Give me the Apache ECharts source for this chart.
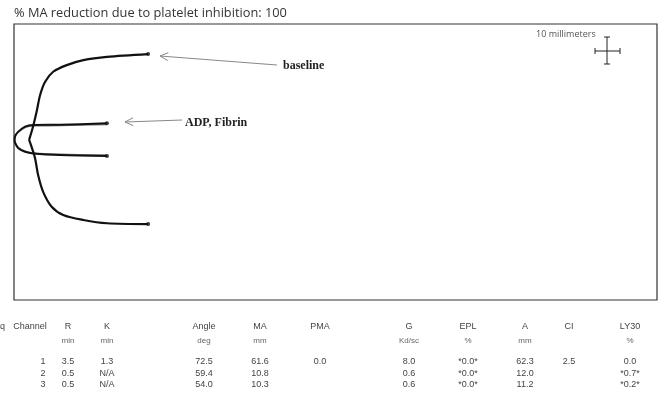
<!DOCTYPE html>
<html lang="en">
<head>
<meta charset="UTF-8">
<title>TEG tracing</title>
<script src="https://cdn.jsdelivr.net/npm/echarts@6/dist/echarts.min.js"></script>
<style>
  html, body { margin: 0; padding: 0; background: #fff; }
  #main { width: 662px; height: 408px; }
</style>
</head>
<body>
<div id="main"></div>
<script>
// tracing data: time in minutes, half amplitude in mm (+ upper arm, - lower arm)
const baseUpT = [3.0, 3.7, 4.5, 5.2, 6.2, 7.8, 10.5, 13.8, 18.5, 26.7];
const baseUpA = [0, 4.2, 10.2, 16.3, 21.1, 24.7, 27.1, 28.9, 30.1, 31.1];
const baseLoT = [3.0, 3.5, 4.2, 4.8, 5.8, 7.5, 9.8, 13.8, 18.5, 26.7];
const baseLoA = [0, -2.5, -6.7, -12.7, -18.8, -24.2, -27.2, -29.0, -30.2, -30.5];

const adpT  = [0.1, 0.25, 0.86, 2.2, 3.8, 9.2, 18.5];
const adpUp = [0, 1.5, 3.0, 4.8, 5.4, 5.5, 6.0];
const adpLo = [0, -1.2, -3.0, -4.3, -4.9, -5.5, -5.8];
const fibUp = [0, 1.4, 2.8, 4.5, 5.1, 5.2, 5.6];
const fibLo = [0, -1.1, -2.8, -4.1, -4.7, -5.2, -5.5];

// results table
const colNames = ['Channel', 'R', 'K', 'Angle', 'MA', 'PMA', 'G', 'EPL', 'A', 'CI', 'LY30'];
const colUnits = ['', 'min', 'min', 'deg', 'mm', '', 'Kd/sc', '%', 'mm', '', '%'];
const row1 = ['1', '3.5', '1.3', '72.5', '61.6', '0.0', '8.0', '*0.0*', '62.3', '2.5', '0.0'];
const row2 = ['2', '0.5', 'N/A', '59.4', '10.8', '', '0.6', '*0.0*', '12.0', '', '*0.7*'];
const row3 = ['3', '0.5', 'N/A', '54.0', '10.3', '', '0.6', '*0.0*', '11.2', '', '*0.2*'];

const pairs = (t, a) => t.map((v, i) => [v, a[i]]);
const last = (t, a) => [t[t.length - 1], a[a.length - 1]];

function curve(t, a, color, width) {
  return {
    type: 'line',
    data: pairs(t, a),
    smooth: 0.3,
    symbol: 'none',
    animation: false,
    lineStyle: { color: color, width: width },
    z: color === '#111' ? 3 : 2
  };
}

let chartDom = document.getElementById('main');
let myChart = echarts.init(chartDom);

// table text
const colX = [30, 68, 107, 204, 260, 320, 409, 468, 525, 569, 630];
const rowY = [362, 374, 385];
const tableFont = '9px "Liberation Sans", Arial, sans-serif';
let tableTexts = [{
  type: 'text', x: 5, y: 327,
  style: { text: 'Seq', font: tableFont, fill: '#444', align: 'right', verticalAlign: 'middle' }
}];
colNames.forEach((n, i) => {
  tableTexts.push({ type: 'text', x: colX[i], y: 327,
    style: { text: n, font: tableFont, fill: '#444', align: 'center', verticalAlign: 'middle' } });
  if (colUnits[i]) tableTexts.push({ type: 'text', x: colX[i], y: 341,
    style: { text: colUnits[i], font: '8px "Liberation Sans", Arial, sans-serif', fill: '#666', align: 'center', verticalAlign: 'middle' } });
});
[row1, row2, row3].forEach((r, j) => {
  r.forEach((v, i) => {
    if (!v) return;
    const x = i === 0 ? 43 : colX[i];
    tableTexts.push({ type: 'text', x: x, y: rowY[j],
      style: { text: v, font: tableFont, fill: '#444', align: 'center', verticalAlign: 'middle' } });
  });
});

function arrow(x1, y1, x2, y2) {
  // shaft from tail (x1,y1) to head (x2,y2), open head
  const ang = Math.atan2(y1 - y2, x1 - x2);
  const L = 9, s = 0.45;
  const lineSt = { stroke: '#888', lineWidth: 1 };
  return [
    { type: 'line', shape: { x1: x1, y1: y1, x2: x2, y2: y2 }, style: lineSt },
    { type: 'line', shape: { x1: x2, y1: y2, x2: x2 + L * Math.cos(ang + s), y2: y2 + L * Math.sin(ang + s) }, style: lineSt },
    { type: 'line', shape: { x1: x2, y1: y2, x2: x2 + L * Math.cos(ang - s), y2: y2 + L * Math.sin(ang - s) }, style: lineSt }
  ];
}

const crossSt = { stroke: '#222', lineWidth: 1 };
let graphics = [
  { type: 'text', x: 14, y: 13,
    style: { text: '% MA reduction due to platelet inhibition: 100', font: '12.8px "Open Sans", "Noto Sans", sans-serif', fill: '#333', verticalAlign: 'middle' } },
  { type: 'text', x: 283, y: 66,
    style: { text: 'baseline', font: 'bold 12px "Liberation Serif", "Times New Roman", serif', fill: '#222', verticalAlign: 'middle' } },
  { type: 'text', x: 185, y: 123,
    style: { text: 'ADP, Fibrin', font: 'bold 12px "Liberation Serif", "Times New Roman", serif', fill: '#222', verticalAlign: 'middle' } },
  { type: 'text', x: 536, y: 34,
    style: { text: '10 millimeters', font: '9px "Open Sans", "Noto Sans", sans-serif', fill: '#555', verticalAlign: 'middle' } },
  { type: 'line', shape: { x1: 595, y1: 51, x2: 620, y2: 51 }, style: crossSt },
  { type: 'line', shape: { x1: 595, y1: 48, x2: 595, y2: 54 }, style: crossSt },
  { type: 'line', shape: { x1: 620, y1: 48, x2: 620, y2: 54 }, style: crossSt },
  { type: 'line', shape: { x1: 607, y1: 37, x2: 607, y2: 64 }, style: crossSt },
  { type: 'line', shape: { x1: 604, y1: 37, x2: 610, y2: 37 }, style: crossSt },
  { type: 'line', shape: { x1: 604, y1: 64, x2: 610, y2: 64 }, style: crossSt }
].concat(arrow(277, 65, 160, 56), arrow(182, 120, 125, 122), tableTexts);

let option = {
  animation: false,
  backgroundColor: '#fff',
  grid: { left: 14, top: 24, width: 643, height: 276, show: true, borderColor: '#333', borderWidth: 1.2, backgroundColor: '#fff' },
  xAxis: { type: 'value', min: 0, max: 128, show: false },
  yAxis: { type: 'value', min: -58, max: 42, show: false },
  graphic: graphics,
  series: [
    curve(adpT, fibUp, '#777', 1.5),
    curve(adpT, fibLo, '#777', 1.5),
    curve(adpT, adpUp, '#111', 2),
    curve(adpT, adpLo, '#111', 2),
    curve(baseUpT, baseUpA, '#111', 2.2),
    curve(baseLoT, baseLoA, '#111', 2.2),
    {
      type: 'scatter',
      data: [last(baseUpT, baseUpA), last(baseLoT, baseLoA), last(adpT, adpUp), last(adpT, adpLo)],
      symbolSize: 4,
      itemStyle: { color: '#111' },
      z: 4
    }
  ]
};
option && myChart.setOption(option);
</script>
</body>
</html>
